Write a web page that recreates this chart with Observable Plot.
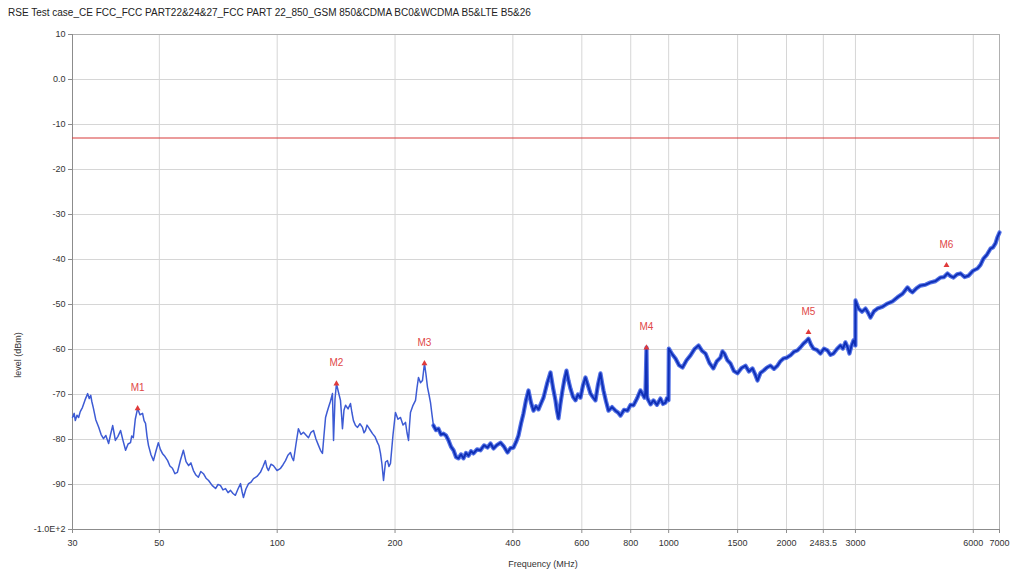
<!DOCTYPE html>
<html><head><meta charset="utf-8">
<script src="https://cdn.jsdelivr.net/npm/d3@7"></script>
<script src="https://cdn.jsdelivr.net/npm/@observablehq/plot@0.6"></script>
<style>
body{margin:0;background:#fff;font-family:"Liberation Sans",Arial,sans-serif;}
#wrap{position:relative;width:1014px;height:575px;}
#title{position:absolute;left:8px;top:7px;font-size:10px;color:#222;white-space:nowrap;}
#ylab{position:absolute;left:18px;top:355px;transform:translate(-50%,-50%) rotate(-90deg);font-size:9px;color:#333;white-space:nowrap;}
#xlab{position:absolute;left:543px;top:564px;transform:translate(-50%,-50%);font-size:9px;color:#333;white-space:nowrap;}
#chart{position:absolute;left:0;top:0;}
</style></head>
<body>
<div id="wrap">
<div id="chart"></div>
<div id="title">RSE Test case_CE FCC_FCC PART22&amp;24&amp;27_FCC PART 22_850_GSM 850&amp;CDMA BC0&amp;WCDMA B5&amp;LTE B5&amp;26</div>
<div id="ylab">level (dBm)</div>
<div id="xlab">Frequency (MHz)</div>
</div>
<script>
// Frequency axis ticks
const xTicks = [30,50,100,200,400,600,800,1000,1500,2000,2483.5,3000,6000,7000];
const xTickLabels = ["30","50","100","200","400","600","800","1000","1500","2000","2483.5","3000","6000","7000"];
// Level axis ticks
const yTicks = [10,0,-10,-20,-30,-40,-50,-60,-70,-80,-90,-100];
const yTickLabels = ["10","0.0","-10","-20","-30","-40","-50","-60","-70","-80","-90","-1.0E+2"];
// Limit line
const limitDbm = -13;
// Measured trace (MHz, dBm)
const freqMHz = [30.0,30.3,30.5,30.8,31.1,31.4,31.8,32.3,32.8,33.1,33.4,33.6,33.9,34.4,35.0,35.5,36.0,36.5,37.1,37.5,38.0,38.3,38.6,39.2,39.8,40.4,41.0,41.6,42.2,42.5,42.9,43.4,44.0,44.6,45.3,45.7,46.1,46.5,46.9,47.6,48.3,49.0,49.7,50.3,50.9,51.7,52.5,53.2,54.0,54.8,55.6,56.6,57.6,58.5,59.4,60.2,61.1,62.0,62.9,63.8,64.8,65.8,66.8,68.2,69.6,70.6,71.6,72.7,73.8,74.9,76.0,77.1,78.2,79.4,80.6,81.3,82.0,83.2,84.5,85.7,87.0,88.8,90.6,92.0,93.3,94.1,95.0,96.4,97.8,99.9,102.0,103.5,105.0,106.5,108.1,109.1,110.1,111.7,113.3,115.0,116.7,118.4,120.2,122.0,123.8,125.6,127.5,129.0,130.5,131.7,132.9,134.0,135.2,136.8,138.4,139.3,140.5,141.7,143.4,145.1,146.0,146.8,148.1,149.5,151.7,153.9,155.2,156.6,158.5,160.4,162.7,165.1,166.6,168.1,169.6,171.1,173.1,175.2,177.8,180.4,182.0,183.6,185.2,186.9,189.1,191.3,193.0,194.7,197.6,200.5,203.5,206.5,209.6,212.7,214.6,216.5,217.7,219.0,222.3,225.6,227.6,229.6,232.3,235.0,236.4,237.8,239.9,242.1,244.2,246.4,248.5,250.7,
254.4,258.2,262.0,265.9,269.9,273.9,278.0,282.1,286.3,290.5,294.8,299.1,303.6,308.1,312.7,317.3,323.9,330.6,337.5,344.5,350.7,356.9,364.4,371.9,379.7,387.5,394.4,401.4,407.4,413.4,419.5,425.7,432.0,438.4,445.0,451.5,458.2,465.0,471.9,478.9,489.0,499.0,506.5,513.9,518.4,523.0,529.2,535.5,541.8,548.2,554.7,561.3,569.6,578.0,586.6,595.3,604.1,613.0,622.2,631.4,640.8,650.2,659.8,669.5,675.5,681.5,691.7,701.9,716.6,731.4,742.3,753.3,769.0,784.9,799.0,813.1,830.1,847.2,857.3,867.4,872.5,877.7,880.3,882.9,898.7,914.6,933.8,953.0,967.2,981.4,990,999,
1001,1020,1041,1063,1085,1111,1137,1164,1192,1217,1242,1271,1301,1328,1356,1372,1388,1413,1438,1468,1499,1535,1571,1604,1637,1661,1686,1716,1747,1783,1820,1858,1896,1930,1964,2005,2047,2090,2133,2171,2210,2243,2276,2309,2343,2392,2442,2493,2544,2590,2636,2691,2747,2787,2828,2862,2896,2930,2965,2999,
3001,3027,3054,3118,3183,3230,3277,3345,3414,3517,3621,3731,3841,3958,4075,4135,4195,4296,4397,4530,4663,4805,4947,5051,5155,5248,5341,5453,5566,5699,5832,5991,6150,6260,6369,6504,6638,6737,6837,6920,7000];
const levelDbm = [-75.1,-74.2,-75.8,-74.6,-75.1,-73.8,-72.9,-71.2,-69.8,-70.9,-70.2,-71.5,-72.9,-75.6,-77.3,-78.9,-79.8,-79.1,-80.9,-79.0,-76.9,-78.5,-80.2,-79.3,-78.0,-80.3,-82.4,-81.0,-80.7,-79.2,-79.6,-75.5,-73.1,-74.5,-74.2,-75.8,-76.4,-79.3,-81.3,-83.4,-84.7,-82.6,-80.7,-82.2,-83.1,-83.8,-84.7,-85.9,-86.4,-87.6,-87.3,-84.6,-82.4,-84.9,-85.8,-85.2,-86.9,-87.9,-88.4,-87.1,-87.6,-88.6,-89.1,-90.2,-90.9,-90.0,-90.2,-91.2,-90.9,-91.8,-91.3,-92.0,-92.4,-91.0,-89.8,-91.5,-92.9,-91.0,-89.8,-89.5,-88.7,-88.2,-87.3,-86.0,-84.7,-86.2,-86.9,-85.5,-85.8,-86.9,-86.4,-85.6,-84.7,-83.5,-82.9,-84.0,-84.7,-81.0,-77.6,-78.9,-78.4,-79.0,-79.6,-78.4,-78.0,-79.9,-81.3,-82.4,-83.1,-79.0,-75.1,-74.0,-72.9,-71.5,-69.8,-80.2,-71.0,-67.6,-69.5,-71.3,-74.5,-77.6,-73.5,-72.4,-73.2,-72.0,-74.0,-75.8,-76.9,-77.3,-76.5,-77.3,-78.5,-78.0,-76.8,-77.3,-78.0,-78.7,-79.4,-80.7,-81.4,-83.1,-85.5,-89.1,-85.0,-84.7,-86.0,-85.3,-79.0,-74.0,-75.5,-75.1,-76.8,-76.2,-78.5,-80.2,-77.0,-74.0,-72.4,-71.3,-68.5,-66.2,-67.4,-66.9,-65.0,-63.1,-65.5,-68.4,-70.0,-71.8,-74.4,-76.9,
-77.9,-77.6,-78.9,-78.7,-79.1,-80.2,-81.6,-82.4,-83.9,-84.2,-83.3,-84.2,-83.0,-83.6,-82.6,-83.1,-82.2,-82.4,-81.3,-81.8,-80.9,-82.0,-81.2,-80.7,-81.6,-82.9,-81.9,-81.8,-80.6,-79.1,-76.5,-74.2,-71.3,-69.1,-71.8,-73.6,-72.6,-73.3,-72.0,-70.7,-67.6,-65.1,-68.5,-71.3,-73.6,-75.3,-72.0,-69.1,-66.6,-64.7,-66.9,-68.7,-70.5,-71.3,-70.0,-70.7,-68.0,-66.2,-68.0,-69.8,-70.6,-71.3,-67.8,-65.3,-67.3,-69.1,-71.5,-73.6,-72.8,-73.6,-74.0,-74.7,-73.4,-73.6,-72.3,-72.4,-70.9,-69.1,-69.9,-70.7,-69.5,-59.6,-70.2,-70.9,-72.2,-71.3,-72.3,-70.9,-72.1,-71.8,-70.8,-71.3,
-59.8,-61.0,-62.0,-63.5,-64.0,-62.4,-61.3,-59.9,-59.1,-60.3,-60.9,-63.0,-64.2,-62.6,-61.8,-60.4,-60.9,-62.4,-63.1,-64.8,-65.3,-64.1,-63.6,-64.9,-64.2,-65.4,-66.9,-65.2,-64.7,-64.0,-63.6,-64.3,-63.6,-62.6,-62.0,-61.8,-61.3,-60.5,-60.2,-59.5,-58.7,-58.2,-57.6,-58.9,-59.8,-60.1,-60.9,-59.8,-60.2,-61.2,-60.9,-59.9,-59.1,-59.8,-58.4,-59.4,-60.9,-59.2,-58.0,-59.1,
-49.1,-50.0,-50.9,-51.6,-50.9,-51.8,-52.9,-51.5,-50.9,-50.5,-49.8,-49.3,-48.4,-47.6,-46.2,-46.9,-47.3,-46.4,-45.8,-45.6,-45.1,-44.8,-44.0,-43.9,-43.1,-43.7,-44.0,-43.3,-43.1,-43.9,-43.6,-42.5,-42.0,-41.2,-39.8,-38.9,-37.6,-37.3,-36.4,-35.0,-34.0];
// Markers
const markerNames = ["M1","M2","M3","M4","M5","M6"];
const markerFreq = [44.0,141.7,237.8,877.7,2276,5125];
const markerLevel = [-73.1,-67.6,-63.1,-59.6,-56.2,-41.3];

const trace = freqMHz.map((f,i)=>({f, v: levelDbm[i]}));
const dense = trace.filter(d=>d.f>=250);
const markers = markerNames.map((n,i)=>({name:n, f:markerFreq[i], v:markerLevel[i]}));
const xTickData = xTicks.map((t,i)=>({t, label:xTickLabels[i]}));
const yLab = new Map(yTicks.map((t,i)=>[t,yTickLabels[i]]));

const chart = Plot.plot({
  width:1014, height:575,
  marginTop:34, marginBottom:46, marginLeft:72, marginRight:15,
  style:{fontFamily:'"Liberation Sans",Arial,sans-serif', fontSize:"9px", color:"#333", background:"transparent"},
  x:{type:"log", domain:[30,7000], label:null},
  y:{domain:[-100,10], label:null},
  marks:[
    Plot.ruleX(xTicks,{stroke:"#d6d6d6"}),
    Plot.ruleY(yTicks,{stroke:"#d6d6d6"}),
    Plot.frame({stroke:"#b0b0b0"}),
    Plot.ruleX([30],{stroke:"#8c8c8c"}),
    Plot.ruleY([-100],{stroke:"#8c8c8c"}),
    Plot.axisX({ticks:xTicks, tickFormat:()=>"", tickSize:4, stroke:"#8c8c8c", label:null}),
    Plot.text(xTickData,{x:"t", text:"label", frameAnchor:"bottom", dy:16, fill:"#333"}),
    Plot.axisY({ticks:yTicks, tickFormat:d=>yLab.get(d), tickSize:4, tickPadding:3, stroke:"#8c8c8c", fill:"#333", label:null}),
    Plot.ruleY([limitDbm],{stroke:"#d83a3a", strokeWidth:1.2}),
    Plot.line(trace,{x:"f", y:"v", stroke:"#3d5bd4", strokeWidth:1.5}),
    Plot.line(dense,{x:"f", y:"v", stroke:"#3558e0", strokeWidth:4.2, strokeOpacity:0.85}),
    Plot.line(dense,{x:"f", y:"v", stroke:"#0f2fb5", strokeWidth:1.8}),
    Plot.dot(markers,{x:"f", y:"v", symbol:"triangle", r:2.2, fill:"#e03a3a"}),
    Plot.text(markers,{x:"f", y:"v", text:"name", dy:-21, fill:"#e04848", fontSize:10})
  ]
});
document.getElementById("chart").appendChild(chart);
</script>
</body></html>
